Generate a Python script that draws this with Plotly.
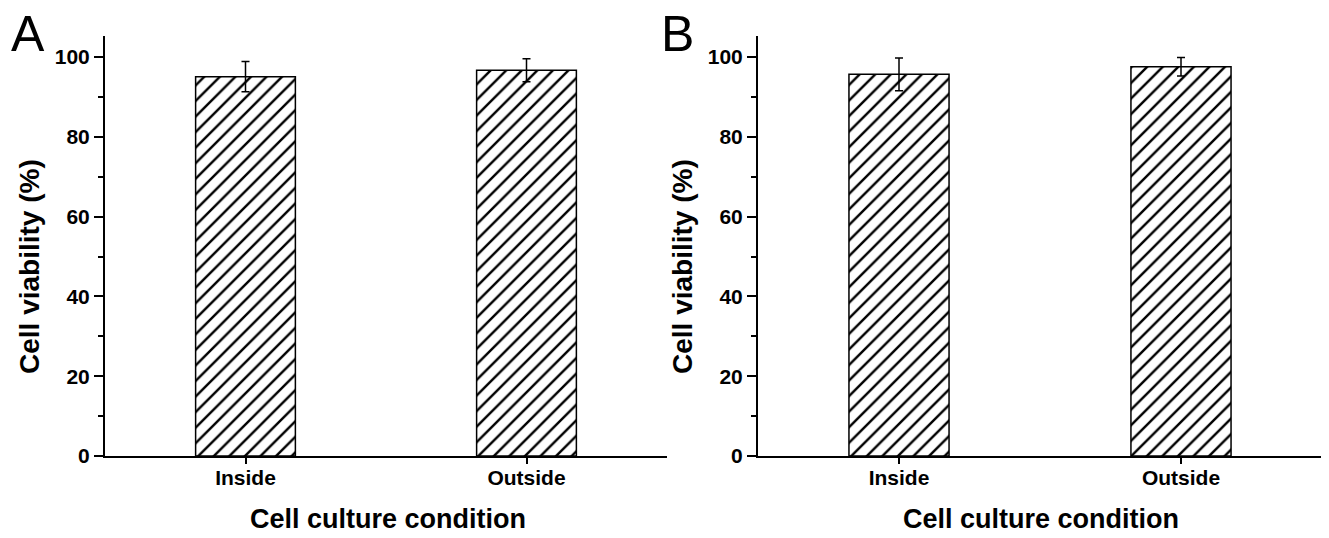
import plotly.graph_objects as go

categories = ["Inside", "Outside"]
viability_A = [95.1, 96.7]
error_A = [3.8, 2.9]
viability_B = [95.7, 97.6]
error_B = [4.1, 2.3]
y_ticks = [0, 20, 40, 60, 80, 100]
panel_labels = ["A", "B"]
x_title = "Cell culture condition"
y_title = "Cell viability (%)"

OFF = 8  # page body margin
W, H = 1321, 522
FONT = "Liberation Sans, Arial, sans-serif"

fig = go.Figure()

def add_bar(vals, errs, xa, ya):
    fig.add_trace(go.Bar(
        x=categories, y=vals, xaxis=xa, yaxis=ya, width=0.355,
        marker=dict(color="white", line=dict(color="black", width=1.5),
                    pattern=dict(shape="/", size=11, solidity=0.22,
                                 fgcolor="black", bgcolor="white", fgopacity=1)),
        error_y=dict(type="data", array=errs, visible=True, color="black",
                     thickness=1.5, width=4),
        showlegend=False))

add_bar(viability_A, error_A, "x", "y")
add_bar(viability_B, error_B, "x2", "y2")

def px_x(p):
    return (p - OFF) / W

def px_y(p):
    return 1 - (p - OFF) / H

ydom = [px_y(456), px_y(36)]
xaxis_common = dict(type="category", range=[-0.5, 1.5], showline=True,
                    linecolor="black", linewidth=2, ticks="outside",
                    ticklen=6, tickwidth=2, tickcolor="black", automargin=False,
                    ticklabelstandoff=-4,
                    tickfont=dict(family=FONT, size=21, color="black", weight="bold"),
                    showgrid=False, zeroline=False)
yaxis_common = dict(range=[0, 105.3], showline=True, linecolor="black",
                    linewidth=2, ticks="outside", ticklen=9, tickwidth=2,
                    tickcolor="black", tickvals=y_ticks, automargin=False,
                    tickfont=dict(family=FONT, size=21, color="black", weight="bold"),
                    minor=dict(ticks="outside", ticklen=5, tickwidth=2,
                               tickcolor="black", dtick=10, showgrid=False),
                    showgrid=False, zeroline=False, domain=ydom)

fig.update_layout(
    template="none",
    width=W, height=H, margin=dict(l=0, r=0, t=0, b=0, autoexpand=False),
    plot_bgcolor="white", paper_bgcolor="white",
    xaxis=dict(domain=[px_x(105), px_x(667)], anchor="y", **xaxis_common),
    yaxis=dict(anchor="x", **yaxis_common),
    xaxis2=dict(domain=[px_x(758), px_x(1322)], anchor="y2", **xaxis_common),
    yaxis2=dict(anchor="x2", **yaxis_common),
)

anns = []
for lbl, lx, xc, ty in [(panel_labels[0], 27.5, 388, 29),
                        (panel_labels[1], 677, 1041, 682)]:
    anns.append(dict(text=lbl, x=px_x(lx), y=px_y(34), xref="paper", yref="paper",
                     xanchor="center", yanchor="middle", showarrow=False,
                     font=dict(family=FONT, size=50, color="black")))
    anns.append(dict(text=x_title, x=px_x(xc), y=px_y(519), xref="paper", yref="paper",
                     xanchor="center", yanchor="middle", showarrow=False,
                     font=dict(family=FONT, size=27, color="black", weight="bold")))
    anns.append(dict(text=y_title, x=px_x(ty), y=px_y(267), xref="paper", yref="paper",
                     xanchor="center", yanchor="middle", showarrow=False, textangle=-90,
                     font=dict(family=FONT, size=28, color="black", weight="bold")))
fig.update_layout(annotations=anns)

fig.write_html("out.html")
